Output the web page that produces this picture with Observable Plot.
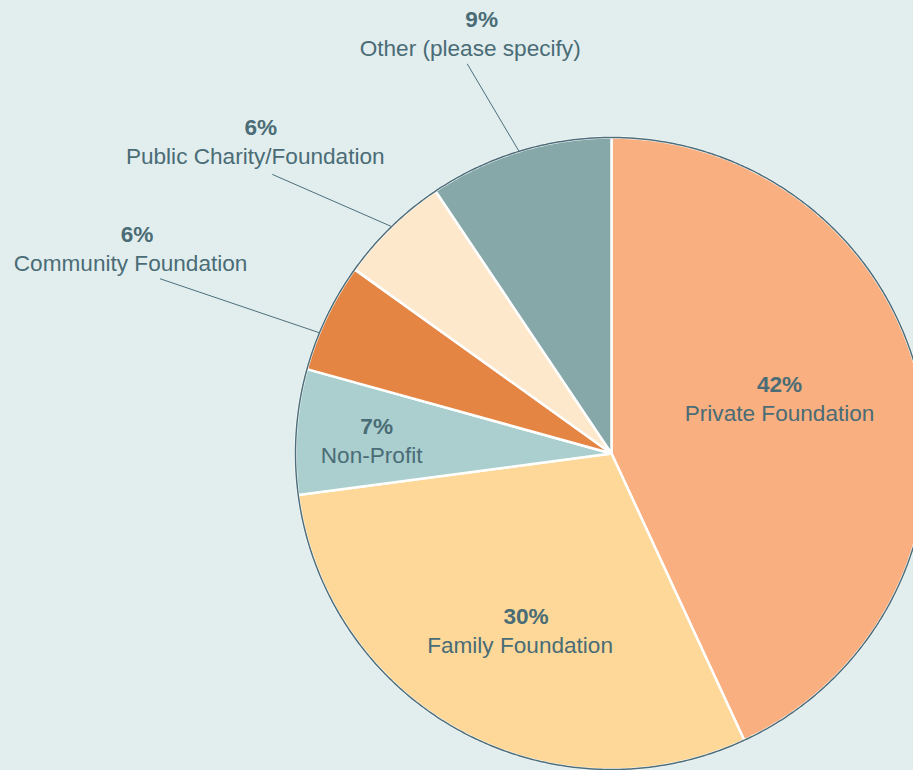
<!DOCTYPE html>
<html>
<head>
<meta charset="utf-8">
<script src="https://cdn.jsdelivr.net/npm/d3@7"></script>
<script src="https://cdn.jsdelivr.net/npm/@observablehq/plot@0.6"></script>
<style>
  html, body { margin: 0; padding: 0; background: #e2eeee; overflow: hidden; }
  #chart { width: 913px; height: 770px; }
</style>
</head>
<body>
<div id="chart"></div>
<script>
// ---- data ----
const categories = ["Private Foundation", "Family Foundation", "Non-Profit", "Community Foundation", "Public Charity/Foundation", "Other (please specify)"];
const shares = [43.1, 29.8, 6.4, 5.6, 5.7, 9.4];          // slice sizes as drawn
const percentLabels = ["42%", "30%", "7%", "6%", "6%", "9%"]; // labels as printed
const sliceColors = ["#f9af7f", "#fdd899", "#aacfce", "#e58543", "#fde8cc", "#87a8a9"];

// ---- layout (label placement, in pie-radius units / degrees from slice middle) ----
const labelShiftDeg = [-5.5, -1.6, -1.0, -2.5, -4.8, -1.7];
const labelRadius   = [0.559, 0.633, 0.760, 1.654, 1.496, 1.401];
const pctNudge      = [0, 6, 5, 6.5, 5.5, 11.5];
const hasLeader     = [false, false, false, true, true, true];
const leaderRimShiftDeg = [0, 0, 0, -3.1, 0, -0.1];
const leaderEndShiftDeg = [0, 0, 0, -4.4, -6.45, -3.4];
const leaderEndRadius   = [0, 0, 0, 1.532, 1.390, 1.315];

const W = 913, H = 770, CX = 611, CY = 453, R = 316;
const textColor = "#4a6c76";
const rimColor = "#4d6f7b";
const font = "'Liberation Sans', Arial, Helvetica, sans-serif";
const fs = 22.6;

const rows = categories.map((name, i) => ({name, share: shares[i], pct: percentLabels[i], i}));
const arcs = d3.pie().sort(null).value(d => d.share)(rows);
const rad = deg => deg * Math.PI / 180;
const polar = (a, k) => ({x: k * Math.sin(a), y: -k * Math.cos(a)});

// slice outlines
const slicePts = [];
for (const a of arcs) {
  const name = a.data.name;
  slicePts.push({name, ...polar(0, 0)});
  const n = Math.max(2, Math.ceil((a.endAngle - a.startAngle) / rad(0.5)));
  for (let j = 0; j <= n; j++) {
    const t = a.startAngle + (a.endAngle - a.startAngle) * j / n;
    slicePts.push({name, ...polar(t, 1)});
  }
  slicePts.push({name, ...polar(0, 0)});
}
// outer rim
const rimPts = d3.range(0, 721).map(j => polar(rad(j / 2), 1));

// labels
const labels = arcs.map(a => {
  const i = a.data.i;
  const mid = (a.startAngle + a.endAngle) / 2;
  const p = polar(mid + rad(labelShiftDeg[i]), labelRadius[i]);
  return {...p, pct: a.data.pct, name: a.data.name, i};
});
const leaders = arcs.filter(a => hasLeader[a.data.i]).map(a => {
  const i = a.data.i;
  const mid = (a.startAngle + a.endAngle) / 2;
  const p1 = polar(mid + rad(leaderRimShiftDeg[i]), 1);
  const p2 = polar(mid + rad(leaderEndShiftDeg[i]), leaderEndRadius[i]);
  return {x1: p1.x, y1: p1.y, x2: p2.x, y2: p2.y};
});

const pctMarks = labels.map(d =>
  Plot.text([d], {x: "x", y: "y", text: "pct", dx: pctNudge[d.i], dy: -14.5, fill: textColor, fontWeight: "bold", fontSize: fs, fontFamily: font})
);

const chart = Plot.plot({
  width: W, height: H,
  margin: 0,
  style: {background: "#e2eeee", fontFamily: font, overflow: "hidden"},
  x: {domain: [-CX / R, (W - CX) / R], range: [0, W], axis: null},
  y: {domain: [-CY / R, (H - CY) / R], range: [0, H], axis: null},
  color: {domain: categories, range: sliceColors},
  marks: [
    Plot.line(slicePts, {x: "x", y: "y", z: "name", fill: "name", stroke: "white", strokeWidth: 2.5, strokeLinejoin: "miter"}),
    Plot.line(rimPts, {x: "x", y: "y", stroke: rimColor, strokeWidth: 1.5}),
    Plot.link(leaders, {x1: "x1", y1: "y1", x2: "x2", y2: "y2", stroke: rimColor, strokeWidth: 1}),
    ...pctMarks,
    Plot.text(labels, {x: "x", y: "y", text: "name", dy: 14.5, fill: textColor, fontSize: fs, fontFamily: font})
  ]
});
document.getElementById("chart").appendChild(chart);
</script>
</body>
</html>
